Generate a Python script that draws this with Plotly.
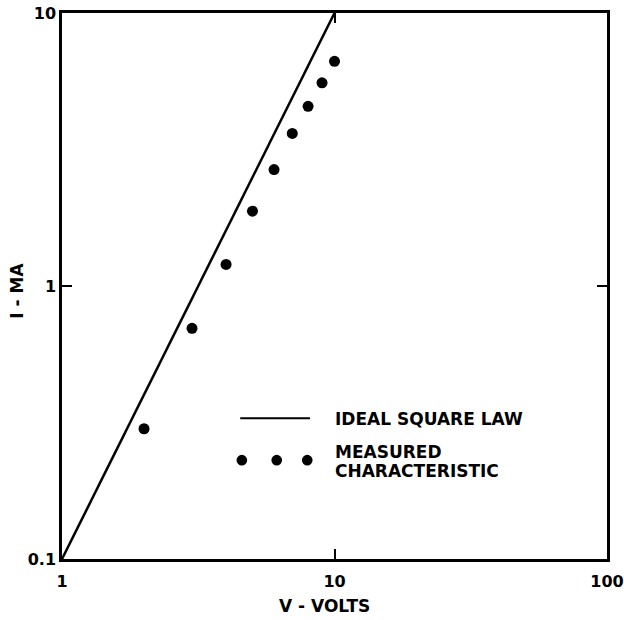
import plotly.graph_objects as go

# Data
v_ideal = [1, 10]
i_ideal = [0.1, 10]
v_meas = [2, 3, 4, 5, 6, 7, 8, 9, 10]
i_meas = [0.30, 0.70, 1.20, 1.88, 2.67, 3.62, 4.55, 5.55, 6.65]
x_ticks = [1, 10, 100]
x_tick_labels = ["1", "10", "100"]
y_ticks = [0.1, 1, 10]
y_tick_labels = ["0.1", "1", "10"]

FONT = "DejaVu Sans"
lf = dict(family=FONT, size=17, color="black", weight="bold")
tf = dict(family=FONT, size=16, color="black", weight="bold")
fig = go.Figure()
fig.add_trace(go.Scatter(x=v_ideal, y=i_ideal, mode="lines",
                         line=dict(color="black", width=2.5), showlegend=False))
fig.add_trace(go.Scatter(x=v_meas, y=i_meas, mode="markers",
                         marker=dict(color="black", size=11), showlegend=False))

axis_common = dict(showgrid=False, zeroline=False, showline=True, linecolor="black",
                   linewidth=2.5, mirror="ticks", ticks="inside", ticklen=10,
                   tickwidth=2, tickcolor="black", automargin=False, tickfont=tf)
fig.update_xaxes(type="log", range=[0, 2], tickvals=x_ticks, ticktext=x_tick_labels,
                 ticklabelstandoff=6, **axis_common)
fig.update_yaxes(type="log", range=[-1, 1], tickvals=y_ticks, ticktext=y_tick_labels,
                 ticklabelstandoff=0, **axis_common)

# Axis titles
fig.add_annotation(xref="paper", yref="paper", x=0.482, y=-0.086, xanchor="center", yanchor="middle",
                   text="V - VOLTS", showarrow=False, font=lf)
fig.add_annotation(xref="paper", yref="paper", x=-0.083, y=0.491, xanchor="center", yanchor="middle",
                   text="I - MA", showarrow=False, font=lf, textangle=-90)

# Legend drawn manually
shapes = [dict(type="line", xref="paper", yref="paper", x0=0.327, x1=0.455, y0=0.258, y1=0.258,
               line=dict(color="black", width=2))]
for xc in [0.330, 0.394, 0.450]:
    shapes.append(dict(type="circle", xref="paper", yref="paper",
                       x0=xc - 0.0098, x1=xc + 0.0098, y0=0.181 - 0.0098, y1=0.181 + 0.0098,
                       fillcolor="black", line=dict(color="black", width=0)))
fig.update_layout(shapes=shapes)
fig.add_annotation(xref="paper", yref="paper", x=0.497, y=0.256, xanchor="left", yanchor="middle",
                   text="IDEAL SQUARE LAW", showarrow=False, font=lf)
fig.add_annotation(xref="paper", yref="paper", x=0.497, y=0.196, xanchor="left", yanchor="middle",
                   text="MEASURED", showarrow=False, font=lf)
fig.add_annotation(xref="paper", yref="paper", x=0.497, y=0.162, xanchor="left", yanchor="middle",
                   text="CHARACTERISTIC", showarrow=False, font=lf)

fig.update_layout(width=624, height=620, plot_bgcolor="white", paper_bgcolor="white",
                  margin=dict(l=62, r=17, t=13, b=61))
fig.write_html("out.html")
